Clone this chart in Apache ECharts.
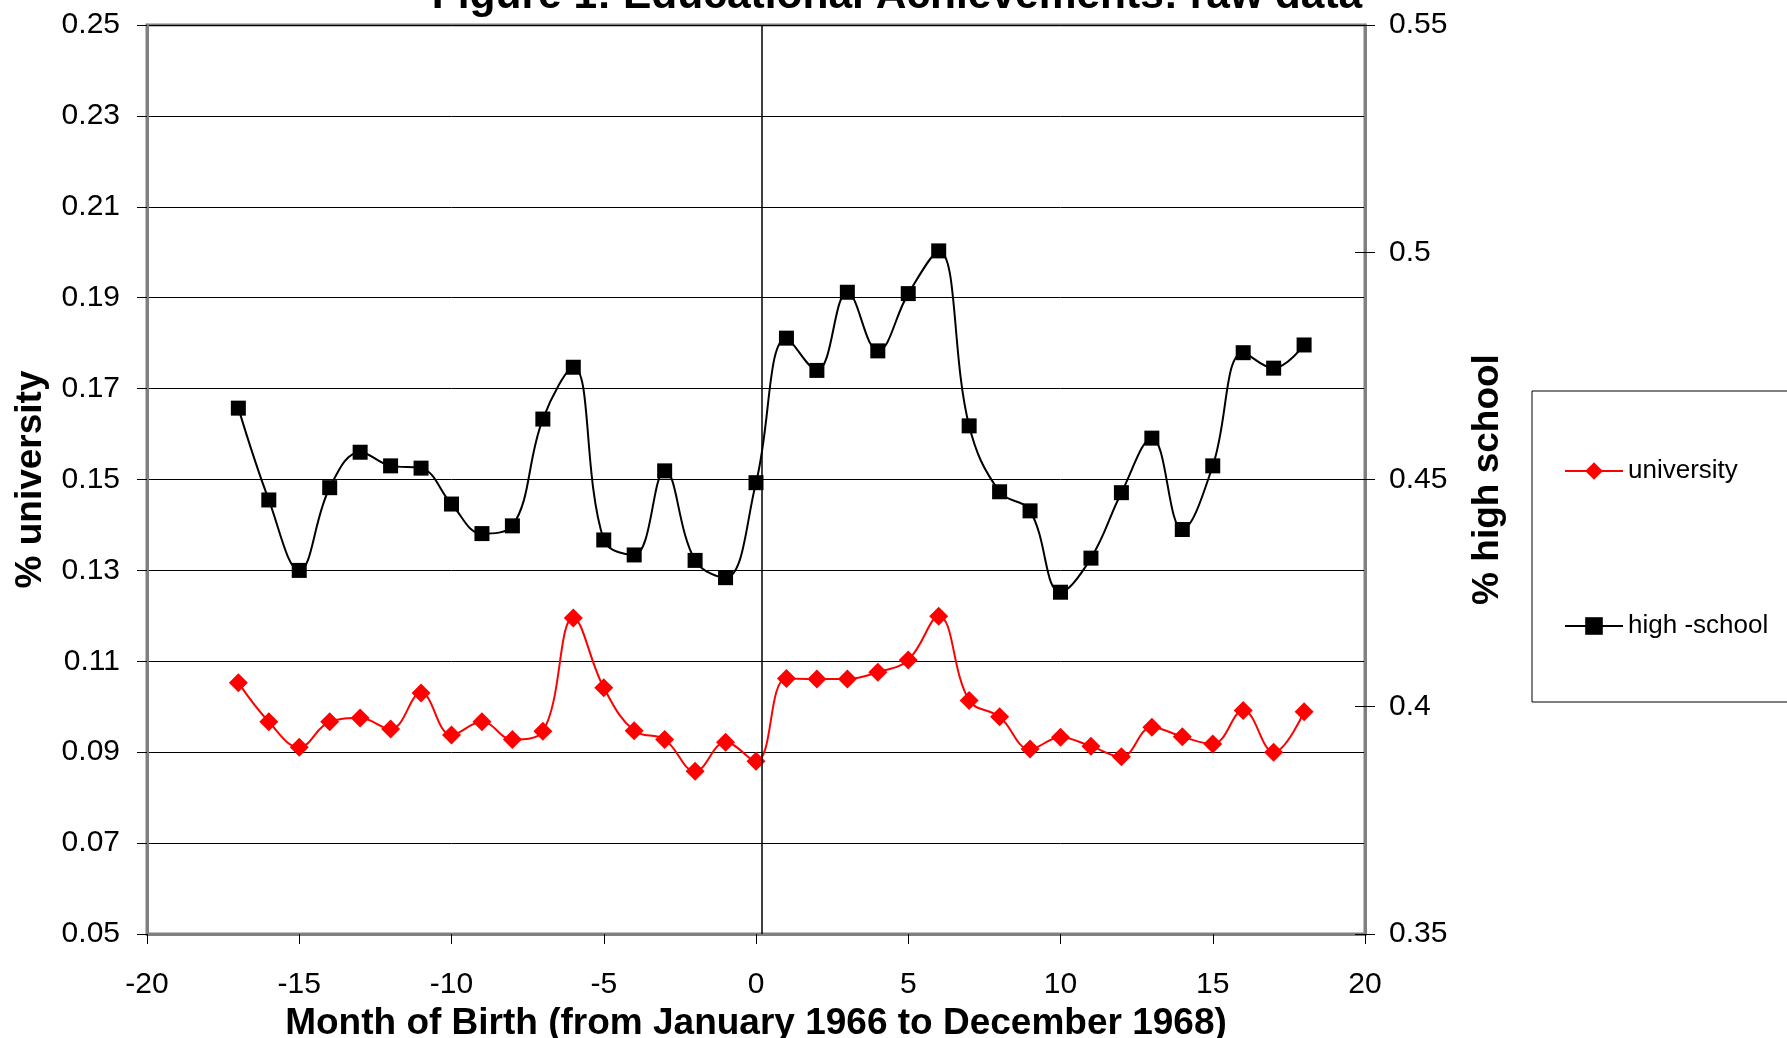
<!DOCTYPE html>
<html>
<head>
<meta charset="utf-8">
<script src="https://cdn.jsdelivr.net/npm/echarts@6/dist/echarts.min.js"></script>
<style>
html,body{margin:0;padding:0;background:#fff;}
#c{width:1787px;height:1038px;}
</style>
</head>
<body>
<div id="c"></div>
<script>
var months = [-17,-16,-15,-14,-13,-12,-11,-10,-9,-8,-7,-6,-5,-4,-3,-2,-1,0,1,2,3,4,5,6,7,8,9,10,11,12,13,14,15,16,17,18];
var university = [0.1053,0.0967,0.0911,0.0967,0.0975,0.0951,0.1030,0.0938,0.0967,0.0928,0.0946,0.1195,
                  0.1042,0.0947,0.0928,0.0858,0.0922,0.0880,0.1062,0.1061,0.1061,0.1076,0.1103,0.1199,
                  0.1014,0.0978,0.0907,0.0933,0.0913,0.0890,0.0955,0.0934,0.0918,0.0992,0.0900,0.0989];
var highSchool = [0.4657,0.4455,0.4300,0.4482,0.4560,0.4530,0.4525,0.4446,0.4381,0.4398,0.4633,0.4747,
                  0.4367,0.4334,0.4519,0.4322,0.4284,0.4493,0.4811,0.4740,0.4912,0.4783,0.4909,0.5003,
                  0.4618,0.4473,0.4431,0.4252,0.4327,0.4471,0.4591,0.4390,0.4530,0.4779,0.4745,0.4796];
var seriesNames = ['university', 'high -school'];
var cutoffMonth = 0.2;
var titleText = 'Figure 1: Educational Achievements: raw data';
var xName = 'Month of Birth (from January 1966 to December 1968)';
var yLeftName = '% university';
var yRightName = '% high school';

var FONT = '"Liberation Sans", Arial, sans-serif';

function pairs(xs, ys){ return xs.map(function(x,i){ return [x, ys[i]]; }); }

var chart = echarts.init(document.getElementById('c'), null, {renderer:'canvas'});
chart.setOption({
  animation: false,
  backgroundColor: '#ffffff',
  textStyle: {fontFamily: FONT, color:'#000'},
  graphic: [{
    type: 'text',
    style: {
      text: titleText, x: 897, y: 18, align: 'center', verticalAlign: 'bottom',
      font: 'bold 42.5px ' + FONT, fill: '#000'
    }
  }],
  grid: {
    left: 147, top: 25, width: 1218, height: 909,
    containLabel: false, outerBoundsMode: 'none',
    show: true, borderColor: '#808080', borderWidth: 3, backgroundColor: 'transparent'
  },
  legend: {
    orient: 'vertical',
    left: 1532, top: 391,
    padding: [67, 90, 63, 32],
    itemWidth: 58, itemHeight: 22, itemGap: 129,
    borderColor: '#000', borderWidth: 1,
    textStyle: {fontFamily: FONT, fontSize: 26, color:'#000'},
    data: seriesNames
  },
  xAxis: {
    type: 'value', min: -20, max: 20, interval: 5,
    name: xName, nameLocation: 'middle', nameGap: 66,
    nameTextStyle: {fontFamily: FONT, fontSize: 37, fontWeight: 'bold', color: '#000'},
    axisLine: {show: true, onZero: false, lineStyle: {color: '#808080', width: 3}},
    axisTick: {show: true, length: 10, lineStyle: {color: '#000', width: 1}},
    axisLabel: {fontFamily: FONT, fontSize: 30, color: '#000', margin: 36},
    splitLine: {show: false}
  },
  yAxis: [{
    type: 'value', min: 0.05, max: 0.25, interval: 0.02, position: 'left',
    name: yLeftName, nameLocation: 'middle', nameGap: 98, nameRotate: 90,
    nameTextStyle: {fontFamily: FONT, fontSize: 37, fontWeight: 'bold', color: '#000'},
    axisLine: {show: true, onZero: false, lineStyle: {color: '#808080', width: 3}},
    axisTick: {show: true, length: 10, lineStyle: {color: '#000', width: 1}},
    axisLabel: {fontFamily: FONT, fontSize: 30, color: '#000', margin: 27,
      formatter: function(v){ return v.toFixed(2); }},
    splitLine: {show: true, lineStyle: {color: '#000', width: 1}}
  }, {
    type: 'value', min: 0.35, max: 0.55, interval: 0.05, position: 'right',
    name: yRightName, nameLocation: 'middle', nameGap: 104, nameRotate: 90,
    nameTextStyle: {fontFamily: FONT, fontSize: 37, fontWeight: 'bold', color: '#000'},
    axisLine: {show: true, onZero: false, lineStyle: {color: '#808080', width: 3}},
    axisTick: {show: true, length: 10, lineStyle: {color: '#000', width: 1}},
    axisLabel: {fontFamily: FONT, fontSize: 30, color: '#000', margin: 24},
    splitLine: {show: false}
  }, {
    type: 'value', min: 0.35, max: 0.55, interval: 0.05, position: 'right',
    axisLine: {show: false, onZero: false},
    axisTick: {show: true, inside: true, length: 10, lineStyle: {color: '#000', width: 1}},
    axisLabel: {show: false},
    splitLine: {show: false}
  }],
  series: [{
    name: seriesNames[0], type: 'line', yAxisIndex: 0,
    data: pairs(months, university),
    smooth: 0.4,
    symbol: 'diamond', symbolSize: 19,
    itemStyle: {color: '#ff0000'},
    lineStyle: {color: '#ff0000', width: 2},
    z: 3
  }, {
    name: seriesNames[1], type: 'line', yAxisIndex: 1,
    data: pairs(months, highSchool),
    smooth: 0.4,
    symbol: 'rect', symbolSize: 15,
    itemStyle: {color: '#000000'},
    lineStyle: {color: '#000000', width: 2},
    z: 4,
    markLine: {
      silent: true, symbol: ['none','none'],
      label: {show: false},
      lineStyle: {color: '#000', width: 1.5, type: 'solid'},
      data: [{xAxis: cutoffMonth}]
    }
  }]
});
</script>
</body>
</html>
